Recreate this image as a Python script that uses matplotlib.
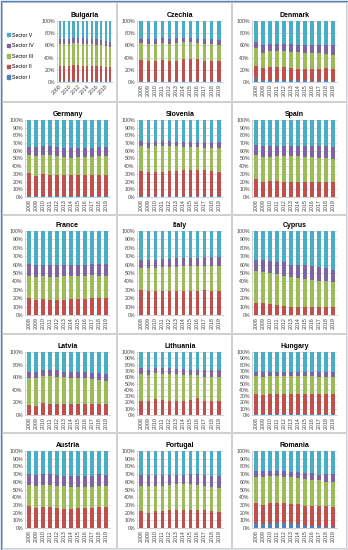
import numpy as np
import matplotlib.pyplot as plt
from matplotlib.patches import Rectangle, Patch

plt.rcParams['font.family'] = ['Liberation Sans', 'DejaVu Sans']

years = [str(y) for y in range(2008, 2020)]
sectors = ['Sector I', 'Sector II', 'Sector III', 'Sector IV', 'Sector V']
colors = ['#4F81BD', '#C0504D', '#9BBB59', '#8064A2', '#4BACC6']

# cumulative top (%) of sectors I..IV for 2008..2019, sector V fills up to 100
bulgaria = [[2, 2, 2, 2, 2, 2, 2, 2, 2, 2, 2, 2],
            [26, 26, 27, 28, 28, 27, 27, 27, 27, 27, 25, 24],
            [63, 63, 63, 64, 64, 63, 62, 62, 61, 60, 59, 58],
            [71, 70, 71, 72, 72, 72, 71, 71, 70, 69, 67, 66]]
czechia = [[2, 1.5, 1.5, 1.5, 1, 1, 1, 1, 1, 1, 1, 1],
           [36, 34, 34, 36, 35, 35, 37, 37, 37, 35, 35, 34],
           [64, 62, 63, 64, 63, 64, 65, 65, 64, 63, 62, 61],
           [71, 70, 71, 72, 71, 72, 72, 72, 71, 70, 70, 69]]
denmark = [[6, 4, 4, 4, 3, 3, 3, 3, 2, 2, 4, 2],
           [27, 23, 24, 24, 24, 23, 22, 22, 21, 21, 23, 21],
           [55, 48, 51, 51, 51, 50, 49, 48, 47, 47, 46, 45],
           [65, 60, 63, 63, 62, 62, 61, 61, 60, 61, 61, 60]]
germany = [[1, 1, 1, 1, 1, 1, 1, 1, 1, 1, 1, 1],
           [31, 27, 30, 29, 29, 28, 28, 29, 28, 29, 29, 29],
           [54, 53, 54, 55, 53, 52, 51, 52, 52, 52, 53, 53],
           [65, 65, 66, 66, 65, 64, 63, 64, 64, 64, 65, 65]]
slovenia = [[1, 1, 1, 1, 1, 1, 1, 1, 1, 1, 1, 1],
            [34, 32, 33, 33, 34, 34, 35, 35, 35, 35, 34, 33],
            [66, 64, 66, 66, 66, 66, 65, 65, 65, 64, 64, 63],
            [73, 71, 73, 73, 73, 72, 72, 72, 72, 72, 71, 71]]
spain = [[0.5] * 12,
         [23, 20, 21, 21, 20, 20, 20, 19, 19, 19, 20, 19],
         [54, 52, 52, 53, 53, 53, 53, 52, 52, 51, 51, 50],
         [67, 66, 66, 66, 66, 66, 66, 66, 66, 66, 66, 65]]
france = [[0.5] * 12,
          [20, 18, 19, 18, 18, 18, 19, 19, 19, 20, 20, 20],
          [47, 45, 46, 45, 45, 46, 46, 46, 46, 48, 47, 47],
          [61, 59, 59, 59, 59, 59, 60, 60, 60, 61, 61, 61]]
italy = [[0.5] * 12,
         [30, 29, 28, 28, 28, 28, 28, 28, 29, 30, 29, 29],
         [56, 56, 56, 57, 57, 57, 58, 58, 58, 58, 58, 58],
         [66, 66, 66, 67, 67, 68, 68, 68, 68, 69, 69, 69]]
cyprus = [[0.5] * 12,
          [14, 14, 13, 12, 11, 10, 10, 10, 10, 10, 10, 10],
          [52, 51, 50, 49, 47, 45, 44, 43, 42, 41, 40, 39],
          [66, 65, 64, 63, 63, 60, 59, 59, 58, 57, 56, 54]]
latvia = [[0.5] * 12,
          [16, 15, 19, 18, 18, 17, 17, 17, 17, 18, 17, 17],
          [59, 58, 62, 62, 61, 60, 59, 59, 58, 57, 55, 54],
          [69, 68, 72, 72, 71, 69, 69, 68, 68, 67, 66, 65]]
lithuania = [[0.5] * 12,
             [22, 23, 25, 24, 22, 22, 22, 24, 27, 22, 22, 22],
             [65, 63, 66, 65, 65, 65, 64, 63, 63, 61, 61, 61],
             [74, 72, 74, 74, 74, 73, 73, 72, 72, 72, 71, 72]]
hungary = [[1] * 12,
           [33, 32, 33, 33, 33, 33, 34, 34, 34, 33, 33, 33],
           [62, 61, 62, 62, 62, 62, 62, 62, 62, 61, 61, 61],
           [69, 68, 69, 69, 69, 69, 69, 69, 69, 68, 68, 68]]
austria = [[0.5] * 12,
           [28, 26, 27, 27, 26, 25, 25, 26, 26, 26, 27, 27],
           [56, 55, 56, 56, 55, 54, 53, 53, 53, 53, 55, 55],
           [70, 69, 70, 70, 69, 68, 68, 68, 67, 68, 70, 69]]
portugal = [[0.5] * 12,
            [22, 20, 22, 22, 23, 23, 23, 24, 24, 23, 22, 21],
            [55, 54, 55, 55, 56, 57, 57, 57, 56, 55, 53, 52],
            [69, 69, 69, 69, 69, 69, 69, 70, 70, 69, 68, 67]]
romania = [[6, 5, 6, 7, 7, 6, 5, 3, 2, 2, 1, 1],
           [32, 30, 32, 33, 33, 31, 31, 29, 28, 28, 28, 27],
           [66, 66, 67, 67, 66, 66, 65, 63, 62, 62, 60, 60],
           [74, 74, 74, 74, 74, 73, 73, 71, 71, 69, 70, 70]]

# (title, data, row, col, y tick step)
panels = [('Bulgaria', bulgaria, 0, 0, 20), ('Czechia', czechia, 0, 1, 20), ('Denmark', denmark, 0, 2, 20),
          ('Germany', germany, 1, 0, 10), ('Slovenia', slovenia, 1, 1, 10), ('Spain', spain, 1, 2, 10),
          ('France', france, 2, 0, 10), ('Italy', italy, 2, 1, 10), ('Cyprus', cyprus, 2, 2, 10),
          ('Latvia', latvia, 3, 0, 20), ('Lithuania', lithuania, 3, 1, 10), ('Hungary', hungary, 3, 2, 10),
          ('Austria', austria, 4, 0, 10), ('Portugal', portugal, 4, 1, 10), ('Romania', romania, 4, 2, 10)]

W, H = 348, 550
fig = plt.figure(figsize=(W / 100, H / 100), dpi=100)

col_x = [(25, 110), (137, 223), (252, 337)]
row_y = [(21, 82), (120, 197), (231, 315), (352, 415), (451, 528)]
box_x = [(2, 116), (117, 231), (232, 346)]
box_y = [(2, 101), (102, 214), (215, 333), (334, 432), (433, 548)]


def fr(x0, y0, x1, y1):
    # pixel box (top-left origin) -> figure fraction rect
    return [x0 / W, 1 - y1 / H, (x1 - x0) / W, (y1 - y0) / H]


for by in box_y:
    for bx in box_x:
        fig.patches.append(Rectangle((bx[0] / W, 1 - by[1] / H), (bx[1] - bx[0]) / W, (by[1] - by[0]) / H,
                                     transform=fig.transFigure, fill=False, ec='#c8c8c8', lw=0.6))
fig.patches.append(Rectangle((0.5 / W, 0.5 / H), (W - 1) / W, (H - 1) / H, transform=fig.transFigure,
                             fill=False, ec='#4F81BD', lw=1.0))

x = np.arange(len(years))
for name, data, r, c, step in panels:
    x0, x1 = col_x[c]
    y0, y1 = row_y[r]
    if name == 'Bulgaria':
        x0, x1 = 57, 113
    ax = fig.add_axes(fr(x0, y0, x1, y1))
    tops = [0] + list(data) + [[100] * 12]
    for k in range(5):
        lo = np.array(tops[k], dtype=float)
        hi = np.array(tops[k + 1], dtype=float)
        ax.bar(x, hi - lo, bottom=lo, width=0.5, color=colors[k], zorder=3)
    ax.set_ylim(0, 100)
    ax.set_xlim(-0.6, 11.6)
    yt = np.arange(0, 101, step)
    ax.set_yticks(yt)
    ax.set_yticklabels([f'{v}%' for v in yt])
    if name == 'Bulgaria':
        ax.set_xticks(x[::2])
        ax.set_xticklabels(years[::2], rotation=45, ha='right', rotation_mode='anchor')
    else:
        ax.set_xticks(x)
        ax.set_xticklabels(years, rotation=90)
    ax.tick_params(labelsize=3.8, length=0, pad=1.5, colors='#404040')
    ax.grid(axis='y', color='#d0d0d0', lw=0.5, zorder=0)
    for s in ['top', 'right']:
        ax.spines[s].set_visible(False)
    for s in ['left', 'bottom']:
        ax.spines[s].set_color('#bfbfbf')
        ax.spines[s].set_linewidth(0.5)
    ax.set_title(name, fontsize=5, fontweight='bold', pad=3)
    if name == 'Bulgaria':
        handles = [Patch(color=colors[k], label=sectors[k]) for k in range(4, -1, -1)]
        fig.legend(handles=handles, loc='upper left', bbox_to_anchor=(4 / W, 1 - 30 / H), frameon=False,
                   fontsize=3.8, handlelength=0.6, handleheight=0.6, handletextpad=0.5, labelspacing=1.05,
                   borderpad=0)

fig.savefig('out.png', dpi=100)
